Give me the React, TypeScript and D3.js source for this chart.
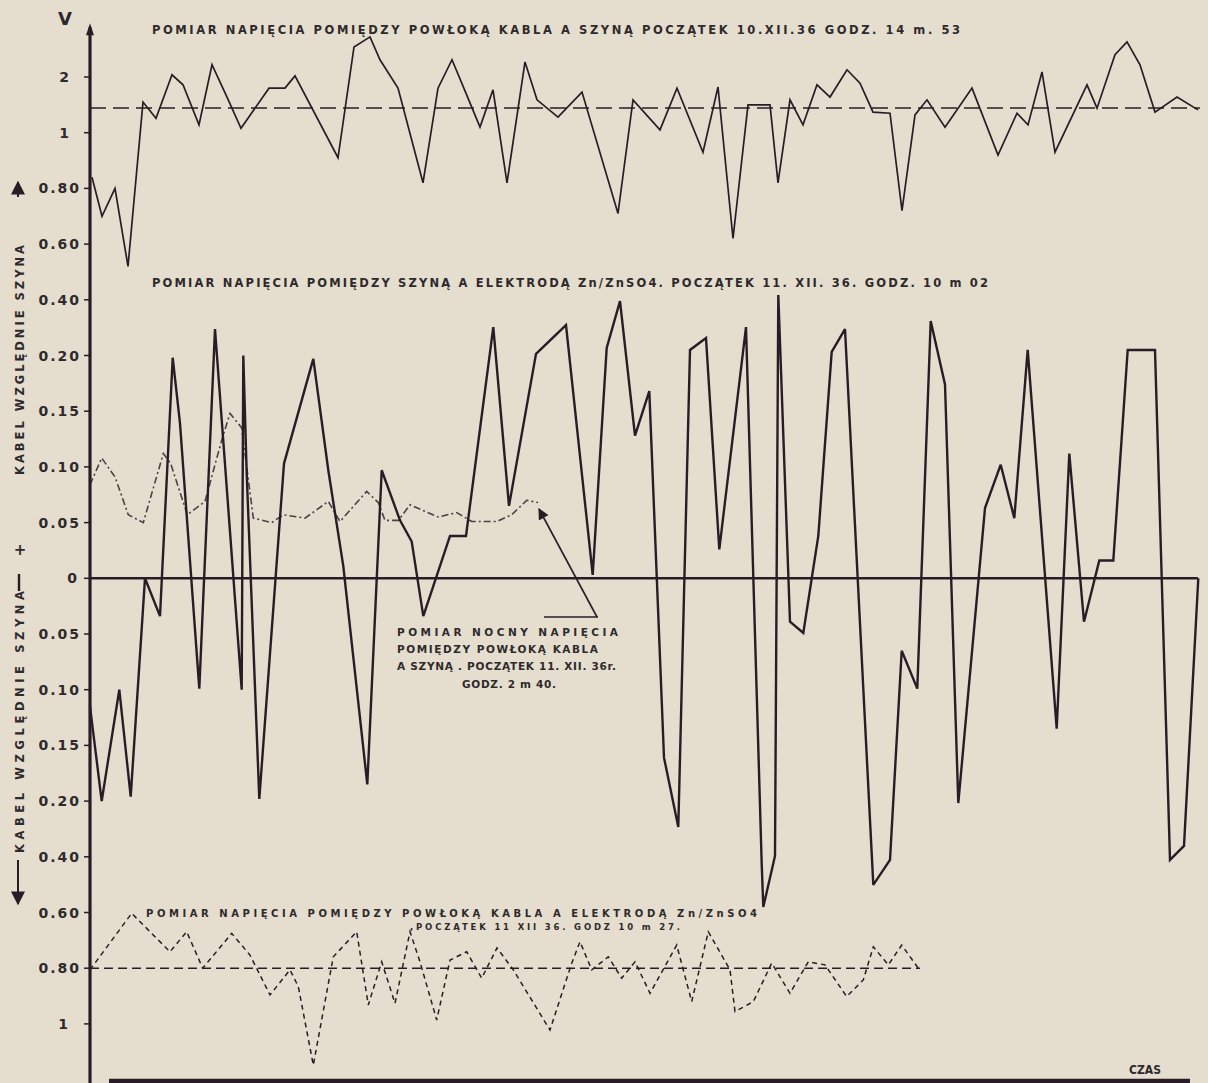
import React from "react";
import * as d3 from "d3";

const W = 1208;
const H = 1083;

// Non-uniform vertical scale of the original drawing (tick values, top to bottom)
const yScaleValues = [3, 2, 1, 0.8, 0.6, 0.4, 0.2, 0.15, 0.1, 0.05, 0, -0.05, -0.1, -0.15, -0.2, -0.4, -0.6, -0.8, -1, -1.2];
const yTickValues = [2, 1, 0.8, 0.6, 0.4, 0.2, 0.15, 0.1, 0.05, 0, -0.05, -0.1, -0.15, -0.2, -0.4, -0.6, -0.8, -1];
const yTickLabels = ["2", "1", "0.80", "0.60", "0.40", "0.20", "0.15", "0.10", "0.05", "0", "0.05", "0.10", "0.15", "0.20", "0.40", "0.60", "0.80", "1"];

// Series 1: sheath – rail voltage (V), start 10.XII.36 14:53
const topSeries: [number, number][] = [
  [0.2, 0.84], [1.2, 0.7], [2.5, 0.8], [3.8, 0.52], [5.3, 1.55], [6.6, 1.26], [8.2, 2.04], [9.3, 1.86],
  [10.9, 1.14], [12.2, 2.22], [13.7, 1.64], [15.1, 1.08], [17.9, 1.8], [19.5, 1.8], [20.5, 2.02], [24.8, 0.91],
  [26.4, 2.54], [28, 2.72], [29, 2.31], [30.8, 1.8], [33.3, 0.82], [34.8, 1.8], [36.2, 2.31], [37.8, 1.62],
  [39, 1.1], [40.3, 1.77], [41.7, 0.82], [43.5, 2.27], [44.7, 1.59], [46.8, 1.28], [49.2, 1.73], [52.8, 0.71],
  [54.3, 1.59], [57, 1.05], [58.7, 1.8], [61.3, 0.93], [62.8, 1.82], [64.3, 0.62], [65.8, 1.5], [68, 1.5],
  [68.8, 0.82], [70, 1.59], [71.3, 1.14], [72.7, 1.86], [74, 1.64], [75.7, 2.13], [77, 1.89], [78.3, 1.37],
  [80, 1.35], [81.2, 0.72], [82.5, 1.32], [83.7, 1.59], [85.5, 1.1], [88.2, 1.8], [90.8, 0.92], [92.7, 1.35],
  [93.8, 1.14], [95.2, 2.09], [96.5, 0.93], [99.7, 1.86], [100.7, 1.44], [102.5, 2.4], [103.7, 2.63], [105, 2.22],
  [106.5, 1.37], [108.7, 1.64], [110.8, 1.41],
];
const topMean = 1.443;

// Series 2: rail – Zn/ZnSO4 electrode, start 11.XII.36 10:02
const railSeries: [number, number][] = [
  [0, -0.115], [1.17, -0.2], [2.93, -0.1], [4.07, -0.196], [5.5, 0], [7, -0.034], [8.27, 0.198], [9, 0.139],
  [10.93, -0.099], [12.5, 0.295], [15.17, -0.1], [15.33, 0.2], [15.67, 0.094], [16.93, -0.198], [19.4, 0.103],
  [22.33, 0.197], [23.83, 0.097], [25.33, 0.011], [27.73, -0.185], [29.17, 0.097], [31, 0.052], [32.17, 0.033],
  [33.33, -0.034], [36, 0.038], [37.6, 0.038], [40.33, 0.302], [41.9, 0.065], [44.6, 0.206], [47.6, 0.309],
  [50.27, 0.003], [51.67, 0.227], [53, 0.395], [54.5, 0.128], [55.93, 0.168], [57.4, -0.161], [58.83, -0.293],
  [60, 0.22], [61.6, 0.263], [62.93, 0.026], [65.6, 0.302], [67.17, -0.426], [67.33, -0.58], [68.5, -0.397],
  [68.83, 0.417], [70, -0.039], [71.33, -0.049], [72.83, 0.038], [74.17, 0.213], [75.5, 0.295], [78.33, -0.501],
  [80, -0.411], [81.17, -0.065], [82.73, -0.099], [84.07, 0.324], [85.5, 0.174], [86.83, -0.207], [89.5, 0.063],
  [91.07, 0.102], [92.43, 0.054], [93.77, 0.22], [96.67, -0.135], [97.93, 0.112], [99.4, -0.039], [100.93, 0.016],
  [102.33, 0.016], [103.77, 0.22], [106.5, 0.22], [108, -0.411], [109.4, -0.361], [110.83, 0],
];

// Series 3: night measurement sheath – rail, start 11.XII.36 2:40
const nightSeries: [number, number][] = [
  [0, 0.084], [1.17, 0.108], [2.5, 0.091], [3.83, 0.057], [5.33, 0.05], [7.33, 0.112], [8.07, 0.103],
  [9.73, 0.057], [11.5, 0.069], [13.17, 0.124], [14, 0.148], [15.17, 0.135], [15.67, 0.1], [16.33, 0.054],
  [18.17, 0.05], [19.33, 0.057], [21.5, 0.054], [23.83, 0.069], [25, 0.051], [27.67, 0.078], [28.83, 0.068],
  [29.5, 0.052], [30.83, 0.052], [32, 0.066], [34.83, 0.055], [36.67, 0.059], [38.17, 0.051], [40.67, 0.051],
  [42.17, 0.057], [43.67, 0.07], [44.8, 0.068],
];

// Series 4: sheath – Zn/ZnSO4 electrode, start 11.XII.36 10:27
const sheathSeries: [number, number][] = [
  [0, -0.806], [4.17, -0.603], [8, -0.741], [9.67, -0.669], [11.27, -0.8], [14.17, -0.675], [16, -0.753],
  [18, -0.896], [20, -0.806], [20.83, -0.866], [22.33, -1.148], [24.33, -0.759], [26.67, -0.669], [27.83, -0.932],
  [29.17, -0.777], [30.5, -0.926], [32, -0.669], [33, -0.777], [34.67, -0.986], [36, -0.771], [37.67, -0.741],
  [39.17, -0.836], [40.7, -0.727], [42.33, -0.806], [46, -1.022], [48.17, -0.782], [49, -0.705], [50.17, -0.806],
  [51.83, -0.759], [53.17, -0.836], [54.5, -0.777], [56, -0.89], [58.67, -0.717], [60.17, -0.92], [61.83, -0.669],
  [64, -0.806], [64.5, -0.956], [66.33, -0.92], [68.17, -0.782], [70, -0.89], [71.83, -0.777], [73.5, -0.788],
  [75.67, -0.902], [77.33, -0.842], [78.33, -0.723], [79.83, -0.788], [81.17, -0.717], [82.83, -0.8],
];
const sheathMean = -0.8;
const sheathEnd = 83;

const PAPER = "#e5dece";
const INK = "#2a1c27";
const FONT = "'DejaVu Sans', Verdana, sans-serif";

export default function App() {
  const x = d3.scaleLinear().domain([0, 111]).range([90, 1200]);
  const y = d3
    .scaleLinear()
    .domain(yScaleValues)
    .range(yScaleValues.map((_, i) => 21.3 + i * 55.7));

  const line = d3
    .line<[number, number]>()
    .x((d) => x(d[0]))
    .y((d) => y(d[1]));

  const labelX = (lab: string, v: number) => {
    if (lab === "0") return 79;
    if (lab.length === 1) return v > 0 ? 71 : 70;
    return 81;
  };

  const txt = { fontFamily: FONT, fontWeight: 700, fill: "#2e2a2c" } as const;

  return (
    <div style={{ position: "absolute", left: 0, top: 0, width: W, height: H }}>
      <svg width={W} height={H} viewBox={`0 0 ${W} ${H}`} style={{ display: "block" }}>
        <defs>
          <marker id="arrowHead" viewBox="0 0 10 10" refX="9" refY="5" markerWidth="7" markerHeight="7" orient="auto-start-reverse">
            <path d="M0,0 L10,5 L0,10 z" fill={INK} />
          </marker>
        </defs>
        <rect x={0} y={0} width={W} height={H} fill={PAPER} />

        {/* reference (mean) lines */}
        <line x1={x(0)} x2={x(111)} y1={y(topMean)} y2={y(topMean)} stroke={INK} strokeWidth={1.5} strokeDasharray="16,7" />
        <line x1={x(0)} x2={x(sheathEnd)} y1={y(sheathMean)} y2={y(sheathMean)} stroke={INK} strokeWidth={1.4} strokeDasharray="9,5" />

        {/* zero line */}
        <line x1={x(0)} x2={x(110.8)} y1={y(0)} y2={y(0)} stroke={INK} strokeWidth={2.6} />

        {/* series */}
        <path d={line(topSeries) || ""} fill="none" stroke={INK} strokeWidth={1.7} strokeLinejoin="miter" />
        <path d={line(nightSeries) || ""} fill="none" stroke="#4a4046" strokeWidth={1.6} strokeDasharray="7,3,2,3" />
        <path d={line(railSeries) || ""} fill="none" stroke={INK} strokeWidth={2.4} strokeLinejoin="miter" strokeMiterlimit={3} />
        <path d={line(sheathSeries) || ""} fill="none" stroke={INK} strokeWidth={1.5} strokeDasharray="5,4" />

        {/* y axis */}
        <line x1={90} x2={90} y1={y(3) + 6} y2={H} stroke={INK} strokeWidth={3.2} />
        <path d={`M86,${y(3) + 14} L90,${y(3) + 2} L94,${y(3) + 14} Z`} fill={INK} />
        {yTickValues.map((v, i) => (
          <g key={i}>
            <line x1={84} x2={90} y1={y(v)} y2={y(v)} stroke={INK} strokeWidth={1.5} />
            <text x={labelX(yTickLabels[i], v)} y={y(v) + 5} textAnchor="end" fontSize={14} letterSpacing={2} {...txt}>
              {yTickLabels[i]}
            </text>
          </g>
        ))}
        <text x={65} y={25} textAnchor="middle" fontSize={18} {...txt}>V</text>

        {/* bottom time axis */}
        <line x1={109} x2={1190} y1={1081} y2={1081} stroke={INK} strokeWidth={4.5} />
        <text x={1129} y={1074} fontSize={12.5} textLength={32} lengthAdjust="spacingAndGlyphs" {...txt}>CZAS</text>

        {/* rotated side labels */}
        <text transform="translate(24,360) rotate(-90)" textAnchor="middle" fontSize={11.5} textLength={230} lengthAdjust="spacing" {...txt}>
          KABEL WZGLĘDNIE SZYNA
        </text>
        <text transform="translate(24,722) rotate(-90)" textAnchor="middle" fontSize={11.5} textLength={262} lengthAdjust="spacing" {...txt}>
          KABEL WZGLĘDNIE SZYNA
        </text>
        <text x={20} y={555} textAnchor="middle" fontSize={15} {...txt}>+</text>
        <line x1={19} x2={19} y1={574} y2={591} stroke={INK} strokeWidth={2.4} />
        <line x1={18} x2={18} y1={197} y2={182} stroke={INK} strokeWidth={2} markerEnd="url(#arrowHead)" />
        <line x1={18} x2={18} y1={860} y2={904} stroke={INK} strokeWidth={2} markerEnd="url(#arrowHead)" />

        {/* titles */}
        <text x={152} y={34} fontSize={11.5} textLength={808} lengthAdjust="spacing" {...txt}>
          POMIAR NAPIĘCIA POMIĘDZY POWŁOKĄ KABLA A SZYNĄ  POCZĄTEK 10.XII.36 GODZ. 14 m. 53
        </text>
        <text x={152} y={287} fontSize={11.5} textLength={836} lengthAdjust="spacing" {...txt}>
          POMIAR NAPIĘCIA POMIĘDZY SZYNĄ A ELEKTRODĄ Zn/ZnSO4. POCZĄTEK 11. XII. 36. GODZ. 10 m 02
        </text>

        {/* night measurement annotation */}
        <line x1={597} y1={617} x2={539} y2={509} stroke={INK} strokeWidth={1.6} markerEnd="url(#arrowHead)" />
        <line x1={544} x2={598} y1={617} y2={617} stroke={INK} strokeWidth={1.6} />
        <text x={397} y={636} fontSize={10.5} textLength={221} lengthAdjust="spacing" {...txt}>POMIAR NOCNY NAPIĘCIA</text>
        <text x={397} y={653} fontSize={10.5} textLength={201} lengthAdjust="spacing" {...txt}>POMIĘDZY POWŁOKĄ KABLA</text>
        <text x={397} y={670} fontSize={10.5} textLength={219} lengthAdjust="spacing" {...txt}>A SZYNĄ .  POCZĄTEK 11. XII. 36r.</text>
        <text x={462} y={688} fontSize={10.5} textLength={94} lengthAdjust="spacing" {...txt}>GODZ. 2 m 40.</text>

        {/* sheath–electrode label */}
        <text x={146} y={917} fontSize={10} textLength={611} lengthAdjust="spacing" {...txt}>
          POMIAR NAPIĘCIA POMIĘDZY POWŁOKĄ KABLA A ELEKTRODĄ Zn/ZnSO4
        </text>
        <text x={410} y={930} fontSize={8.5} textLength={270} lengthAdjust="spacing" {...txt}>
          ,POCZĄTEK 11 XII 36. GODZ 10 m 27.
        </text>
      </svg>
    </div>
  );
}
